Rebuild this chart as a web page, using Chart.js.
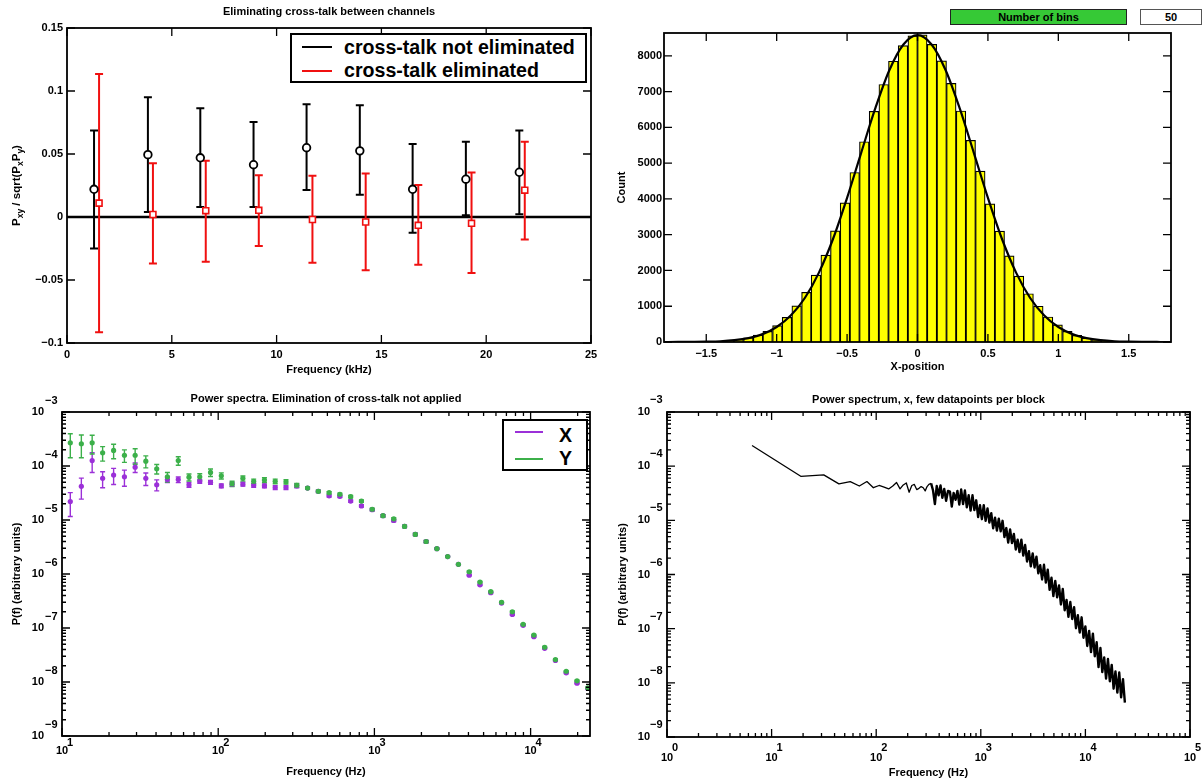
<!DOCTYPE html>
<html><head><meta charset="utf-8">
<script src="https://cdn.jsdelivr.net/npm/chart.js@4.4.1/dist/chart.umd.min.js"></script>
<style>
html,body{margin:0;padding:0;background:#fff;}
body{width:1203px;height:782px;position:relative;overflow:hidden;font-family:'Liberation Sans',Arial,Helvetica,sans-serif;}
canvas{position:absolute;}
.legend{position:absolute;background:#fff;border:2px solid #000;box-sizing:border-box;z-index:5;}
.ls{position:absolute;height:2px;}
.lt{position:absolute;font-weight:bold;font-size:19.6px;line-height:22px;white-space:nowrap;color:#000;}
.widget{position:absolute;box-sizing:border-box;font-weight:bold;font-size:11px;line-height:14px;text-align:center;z-index:5;}
</style></head><body>
<canvas id="c1" width="600" height="380" style="left:0;top:0;width:600px;height:380px"></canvas>
<canvas id="c2" width="603" height="380" style="left:600px;top:0;width:603px;height:380px"></canvas>
<canvas id="c3" width="600" height="402" style="left:0;top:380px;width:600px;height:402px"></canvas>
<canvas id="c4" width="603" height="402" style="left:600px;top:380px;width:603px;height:402px"></canvas>

<div class="legend" style="left:290px;top:33px;width:297px;height:50px;">
  <div class="ls" style="left:10px;top:11px;width:30px;background:#000"></div>
  <div class="lt" style="left:52px;top:1px;">cross-talk not eliminated</div>
  <div class="ls" style="left:10px;top:35px;width:30px;background:#f01010"></div>
  <div class="lt" style="left:52px;top:24px;">cross-talk eliminated</div>
</div>
<div class="legend" style="left:502px;top:419px;width:86px;height:52px;">
  <div class="ls" style="left:11px;top:10px;width:28px;background:#9b30d8"></div>
  <div class="lt" style="left:55px;top:3px;">X</div>
  <div class="ls" style="left:11px;top:37px;width:28px;background:#3cb04a"></div>
  <div class="lt" style="left:55px;top:26px;">Y</div>
</div>
<div class="widget" style="left:950px;top:9px;width:177px;height:16px;background:#36c936;border:1px solid #222;">Number of bins</div>
<div class="widget" style="left:1140px;top:9px;width:62px;height:16px;background:#fff;border:1px solid #555;">50</div>

<script>
// ---------- Top-left: cross-talk ----------
const freqNotElim = [1.29, 3.86, 6.36, 8.90, 11.43, 13.97, 16.49, 19.03, 21.58];
const valNotElim  = [0.022, 0.0495, 0.047, 0.0415, 0.055, 0.0525, 0.022, 0.030, 0.0355];
const hiNotElim   = [0.0686, 0.095, 0.0864, 0.0753, 0.0894, 0.0886, 0.058, 0.0598, 0.0686];
const loNotElim   = [-0.025, 0.004, 0.008, 0.008, 0.0215, 0.0176, -0.0125, 0.0013, 0.0021];
const freqElim = [1.53, 4.10, 6.62, 9.15, 11.71, 14.25, 16.76, 19.30, 21.84];
const valElim  = [0.011, 0.002, 0.005, 0.0053, -0.002, -0.004, -0.0066, -0.005, 0.0213];
const hiElim   = [0.1134, 0.0426, 0.0447, 0.0332, 0.0327, 0.0346, 0.0253, 0.0354, 0.0598];
const loElim   = [-0.0915, -0.037, -0.0356, -0.0231, -0.0364, -0.0423, -0.0378, -0.0444, -0.0178];

// ---------- Top-right: histogram ----------
const binCenters = [-1.681,-1.612,-1.544,-1.475,-1.407,-1.338,-1.270,-1.201,-1.132,-1.064,-0.995,-0.927,-0.858,-0.789,-0.721,-0.652,-0.584,-0.515,-0.446,-0.378,-0.309,-0.240,-0.172,-0.103,-0.034,0.034,0.103,0.172,0.240,0.309,0.378,0.446,0.515,0.584,0.652,0.721,0.789,0.858,0.927,0.995,1.064,1.132,1.201,1.270,1.338,1.407,1.475,1.544,1.612,1.681];
const binCounts = [1,3,6,12,22,40,70,120,195,300,460,690,1010,1390,1870,2430,3110,3890,4740,5600,6450,7200,7850,8290,8560,8590,8320,7860,7230,6460,5640,4780,3860,3100,2410,1840,1350,1000,700,480,300,185,105,62,32,16,8,4,2,1];
const fitX = [-1.8,-1.7,-1.6,-1.5,-1.4,-1.3,-1.2,-1.1,-1.0,-0.9,-0.8,-0.7,-0.6,-0.5,-0.4,-0.3,-0.2,-0.1,0,0.1,0.2,0.3,0.4,0.5,0.6,0.7,0.8,0.9,1.0,1.1,1.2,1.3,1.4,1.5,1.6,1.7,1.8];
const fitY = [0,1,4,9,20,50,110,220,420,740,1230,1940,2880,4030,5290,6530,7600,8320,8580,8320,7600,6530,5290,4030,2880,1940,1230,740,420,220,110,50,20,9,4,1,0];
const countTicks = [0,1000,2000,3000,4000,5000,6000,7000,8000];

// ---------- Bottom-left: power spectra X / Y ----------
const psFreq = [11.3,13.3,15.6,18.2,21.4,25.1,29.4,34.4,40.4,47.3,55.5,65.0,76.2,89.3,104.7,122.7,143.9,168.7,197.7,231.7,271.6,318.4,373.3,437.5,512.9,601.2,704.7,826.0,968.3,1135,1330,1560,1828,2143,2512,2944,3451,4046,4742,5559,6516,7638,8954,10495,12303,14421,16904,19815,23227];
const psX = [2.19e-5,4.2e-5,1.26e-4,5.9e-5,6.8e-5,6.3e-5,9.5e-5,5.9e-5,4.5e-5,5.6e-5, 5.6e-5,4.5e-5,5.2e-5,5.0e-5,4.3e-5,4.6e-5,4.6e-5,4.4e-5,4.3e-5,4.0e-5, 4.0e-5,4.3e-5,3.9e-5,3.4e-5,2.8e-5,2.75e-5,2.24e-5,1.82e-5,1.55e-5,1.2e-5, 9.8e-6,7.6e-6,5.4e-6,4.0e-6,2.95e-6,2.1e-6,1.51e-6,9.5e-7,6.3e-7,4.5e-7, 2.9e-7,1.78e-7,1.12e-7,6.9e-8,4.2e-8,2.5e-8,1.48e-8,9.5e-9,7.6e-9];
const psY = [2.69e-4,2.58e-4,2.69e-4,1.76e-4,1.94e-4,1.58e-4,1.58e-4,1.23e-4,8.9e-5,6.3e-5, 1.26e-4,6.2e-5,6.3e-5,7.6e-5,6.6e-5,4.7e-5,5.9e-5,5.2e-5,5.5e-5,5.2e-5, 5.1e-5,4.4e-5,3.9e-5,3.4e-5,3.2e-5,3.0e-5,2.7e-5,2.24e-5,1.58e-5,1.2e-5, 1.05e-5,7.6e-6,5.4e-6,4.0e-6,2.95e-6,2.1e-6,1.51e-6,1.1e-6,7.1e-7,4.7e-7, 3.0e-7,2.0e-7,1.17e-7,7.4e-8,4.4e-8,2.6e-8,1.58e-8,1.05e-8,7.8e-9];
const psXRelErr = [0.47,0.42,0.40,0.33,0.33,0.33,0.20,0.26,0.23,0.12, 0.12,0.10,0.08,0.08,0.08,0.08,0.08,0.08,0.08,0.08, 0.08,0.08,0.05,0.05,0.05,0.05,0.05,0.05,0.05,0.05, 0.05,0.05,0.05,0.05,0.03,0.03,0.03,0.03,0.03,0.03, 0.03,0.03,0.03,0.03,0.03,0.03,0.03,0.03,0.03];
const psYRelErr = [0.47,0.45,0.38,0.30,0.30,0.26,0.32,0.25,0.20,0.20, 0.18,0.15,0.14,0.16,0.13,0.11,0.11,0.10,0.10,0.10, 0.09,0.08,0.05,0.05,0.05,0.05,0.05,0.05,0.05,0.05, 0.05,0.05,0.05,0.05,0.03,0.03,0.03,0.03,0.03,0.03, 0.03,0.03,0.03,0.03,0.03,0.03,0.03,0.03,0.03];

// ---------- Bottom-right: single power spectrum ----------
const spectrumFreq = [6.5,19,31.5,44,56.5,69,81.5,94,106.5,119,131.5,144,156.5,169,181.5,194,206.5,219,231.5,244,256.5,269,281.5,294,306.5,319,
 335,349,364,379,395,412,429,447,466,486,507,528,550,574,598,623,649,677,705,735,766,799,833,868,904,943,982,1024,1067,1112,1159,1208,1259,1313,1368,1426,1486,1549,1615,1683,1754,1828,1906,1986,2070,2158,2249,2344,2443,2547,2654,2767,2884,3006,3133,3265,3403,3547,3697,3854,4017,4187,4364,4548,4741,4941,5150,5368,5595,5832,6078,6336,6603,6883,7174,7477,7794,8123,8467,8825,9198,9587,9993,10415,10856,11315,11793,12292,12812,13354,13918,14507,15120,15760,16426,17121,17845,18600,19386,20206,21061,21951,22880,23847];
const spectrumPower = [2.4e-4,6.5e-5,6.9e-5,4.7e-5,5.2e-5,4.3e-5,5.2e-5,4.0e-5,4.4e-5,4.1e-5,3.8e-5,4.3e-5,5.0e-5,3.8e-5,4.5e-5,4.9e-5,3.3e-5,4.4e-5,4.6e-5,3.7e-5,3.9e-5,4.2e-5,4.0e-5,3.5e-5,4.2e-5,4.6e-5,
 4.8e-5,3.6e-5,2.0e-5,4.3e-5,2.9e-5,4.4e-5,2.6e-5,3.8e-5,2.3e-5,3.5e-5,
 3.4e-5,1.8e-5,3.2e-5,2.4e-5,3.5e-5,1.95e-5,3.7e-5,2.0e-5,3.55e-5,1.74e-5,
 2.9e-5,1.51e-5,2.9e-5,1.55e-5,2.34e-5,1.15e-5,1.9e-5,1.05e-5,1.9e-5,9.8e-6,
 1.66e-5,9.1e-6,1.35e-5,7.1e-6,1.12e-5,6.5e-6,1.07e-5,6.3e-6,9.8e-6,4.9e-6,
 7.2e-6,3.9e-6,6.8e-6,3.8e-6,5.6e-6,2.9e-6,4.4e-6,2.6e-6,4.4e-6,2.24e-6,
 3.5e-6,1.74e-6,2.7e-6,1.41e-6,2.45e-6,1.35e-6,2.14e-6,1.05e-6,1.48e-6,8.1e-7,
 1.51e-6,7.1e-7,1.23e-6,5.2e-7,8.7e-7,4.0e-7,7.6e-7,3.8e-7,6.3e-7,2.8e-7,
 5.4e-7,2.19e-7,3.4e-7,1.66e-7,3.1e-7,1.51e-7,2.5e-7,1.02e-7,1.78e-7,8.5e-8,
 1.62e-7,6.8e-8,1.1e-7,4.8e-8,9.1e-8,3.7e-8,8.1e-8,3.1e-8,5.6e-8,1.95e-8,
 4.4e-8,1.58e-8,2.95e-8,1.2e-8,2.75e-8,1.07e-8,2.14e-8,7.8e-9,1.62e-8,6.6e-9,
 1.55e-8,5.4e-9,1.17e-8,4.3e-9];

// ---------- common setup ----------
const FONT = "'Liberation Sans', Arial, Helvetica, sans-serif";
Chart.defaults.font.family = FONT;
Chart.defaults.font.size = 11;
Chart.defaults.font.weight = 'bold';
Chart.defaults.color = '#000';
Chart.defaults.animation = false;
Chart.defaults.plugins.legend.display = false;
Chart.defaults.plugins.tooltip.enabled = false;

const MINUS = '\u2212';
const fmtNum = v => { const r = Math.round(v * 10000) / 10000; return r < 0 ? MINUS + String(-r) : String(r); };
function fixSize(w, h) {
  return function (s) {
    if (w != null) s.width = w;
    if (h != null) s.height = h;
    s.paddingLeft = 0; s.paddingRight = 0; s.paddingTop = 0; s.paddingBottom = 0;
  };
}
const noGrid = {display: false, drawTicks: false};

// frame + inward ticks on all four sides
const axisFrame = {
  id: 'axisFrame',
  afterDraw(chart) {
    const {ctx, chartArea: a} = chart;
    const ticksFor = (s) => {
      if (s.type === 'logarithmic') {
        const maj = [], min = [];
        const k0 = Math.floor(Math.log10(s.min) + 1e-9), k1 = Math.ceil(Math.log10(s.max) - 1e-9);
        for (let k = k0; k <= k1; k++) for (let m = 1; m <= 9; m++) {
          const v = m * Math.pow(10, k);
          if (v < s.min * 0.999 || v > s.max * 1.001) continue;
          (m === 1 ? maj : min).push(v);
        }
        return {maj, min};
      }
      return {maj: s.ticks.map(t => t.value), min: []};
    };
    const xs = chart.scales.x, ys = chart.scales.y;
    const tx = ticksFor(xs), ty = ticksFor(ys);
    ctx.save();
    ctx.strokeStyle = '#000';
    ctx.lineWidth = 1.3;
    ctx.beginPath();
    const xt = (v, len) => { const p = xs.getPixelForValue(v); ctx.moveTo(p, a.bottom); ctx.lineTo(p, a.bottom - len); ctx.moveTo(p, a.top); ctx.lineTo(p, a.top + len); };
    const yt = (v, len) => { const p = ys.getPixelForValue(v); ctx.moveTo(a.left, p); ctx.lineTo(a.left + len, p); ctx.moveTo(a.right, p); ctx.lineTo(a.right - len, p); };
    tx.maj.forEach(v => xt(v, 8)); tx.min.forEach(v => xt(v, 4));
    ty.maj.forEach(v => yt(v, 8)); ty.min.forEach(v => yt(v, 4));
    ctx.stroke();
    ctx.lineWidth = 1.8;
    ctx.strokeRect(a.left, a.top, a.right - a.left, a.bottom - a.top);
    ctx.restore();
  }
};

// "10" with superscript exponent labels for log axes
const logLabels = {
  id: 'logLabels',
  afterDraw(chart, args, o) {
    if (!o || !o.enabled) return;
    const {ctx, chartArea: a} = chart;
    const xs = chart.scales.x, ys = chart.scales.y;
    const exp = k => (k < 0 ? MINUS : '') + Math.abs(k);
    ctx.save();
    ctx.fillStyle = '#000';
    ctx.font = 'bold 11px ' + FONT;
    ctx.textBaseline = 'middle';
    for (let k = Math.ceil(Math.log10(xs.min) - 1e-9); k <= Math.floor(Math.log10(xs.max) + 1e-9); k++) {
      const p = xs.getPixelForValue(Math.pow(10, k));
      ctx.textAlign = 'center'; ctx.fillText('10', p, a.bottom + o.xBase);
      ctx.textAlign = 'left'; ctx.fillText(exp(k), p + o.xExpDx, a.bottom + o.xExp);
    }
    for (let k = Math.ceil(Math.log10(ys.min) - 1e-9); k <= Math.floor(Math.log10(ys.max) + 1e-9); k++) {
      const p = ys.getPixelForValue(Math.pow(10, k));
      ctx.textAlign = 'right'; ctx.fillText('10', a.left - o.yBaseDx, p);
      ctx.textAlign = 'left'; ctx.fillText(exp(k), a.left - o.yExpDx, p - o.yExpDy);
    }
    ctx.restore();
  }
};

// vertical error bars (datasets carry errLo / errHi arrays) + optional reference line
const errorBars = {
  id: 'errorBars',
  beforeDatasetsDraw(chart, args, o) {
    const {ctx, chartArea: a} = chart;
    const xs = chart.scales.x, ys = chart.scales.y;
    ctx.save();
    ctx.beginPath(); ctx.rect(a.left, a.top, a.right - a.left, a.bottom - a.top); ctx.clip();
    if (o && o.refY != null) {
      const p = ys.getPixelForValue(o.refY);
      ctx.strokeStyle = '#000'; ctx.lineWidth = 2.6;
      ctx.beginPath(); ctx.moveTo(a.left, p); ctx.lineTo(a.right, p); ctx.stroke();
    }
    chart.data.datasets.forEach((ds) => {
      if (!ds.errLo) return;
      ctx.strokeStyle = ds.errColor; ctx.lineWidth = ds.errWidth;
      const c = ds.capHalf;
      ctx.beginPath();
      ds.data.forEach((pt, j) => {
        const px = xs.getPixelForValue(pt.x);
        const lo = ys.getPixelForValue(ds.errLo[j]), hi = ys.getPixelForValue(ds.errHi[j]);
        ctx.moveTo(px, lo); ctx.lineTo(px, hi);
        ctx.moveTo(px - c, lo); ctx.lineTo(px + c, lo);
        ctx.moveTo(px - c, hi); ctx.lineTo(px + c, hi);
      });
      ctx.stroke();
    });
    ctx.restore();
  }
};

// y title with subscripts for the top-left chart
const pxyTitle = {
  id: 'pxyTitle',
  afterDraw(chart, args, o) {
    if (!o || !o.enabled) return;
    const {ctx, chartArea: a} = chart;
    const parts = [['P', 0], ['xy', 1], [' / sqrt(P', 0], ['x', 1], ['P', 0], ['y', 1], [')', 0]];
    const big = 'bold 11.5px ' + FONT, small = 'bold 8.5px ' + FONT;
    ctx.save();
    let total = 0;
    parts.forEach(([t, s]) => { ctx.font = s ? small : big; total += ctx.measureText(t).width; });
    ctx.translate(o.x, (a.top + a.bottom) / 2);
    ctx.rotate(-Math.PI / 2);
    ctx.fillStyle = '#000'; ctx.textBaseline = 'middle'; ctx.textAlign = 'left';
    let x = -total / 2;
    parts.forEach(([t, s]) => { ctx.font = s ? small : big; ctx.fillText(t, x, s ? 4 : 0); x += ctx.measureText(t).width; });
    ctx.restore();
  }
};

const toPts = (xs, ys) => xs.map((x, i) => ({x, y: ys[i]}));
const tickFont = {size: 11, weight: 'bold'};

// ---------- Chart 1 ----------
new Chart(document.getElementById('c1'), {
  type: 'scatter',
  data: {datasets: [
    {label: 'cross-talk not eliminated', data: toPts(freqNotElim, valNotElim), errLo: loNotElim, errHi: hiNotElim,
     errColor: '#000', errWidth: 2, capHalf: 4, pointStyle: 'circle', pointRadius: 3.8, borderColor: '#000', backgroundColor: '#fff', pointBorderWidth: 1.8, showLine: false},
    {label: 'cross-talk eliminated', data: toPts(freqElim, valElim), errLo: loElim, errHi: hiElim,
     errColor: '#f01010', errWidth: 2, capHalf: 4, pointStyle: 'rect', pointRadius: 4.2, borderColor: '#f01010', backgroundColor: '#fff', pointBorderWidth: 1.6, showLine: false}
  ]},
  options: {
    responsive: false,
    layout: {padding: {left: 0, right: 9, top: 0, bottom: 0}},
    plugins: {
      title: {display: true, fullSize: false, text: 'Eliminating cross-talk between channels', font: tickFont, color: '#000', padding: {top: 5, bottom: 9.8}},
      errorBars: {refY: 0},
      pxyTitle: {enabled: true, x: 17}
    },
    scales: {
      x: {type: 'linear', min: 0, max: 25, grid: noGrid, border: {display: false},
          ticks: {stepSize: 5, padding: 5, font: tickFont, color: '#000', maxRotation: 0, callback: fmtNum},
          title: {display: true, text: 'Frequency (kHz)', font: tickFont, color: '#000', padding: {top: 0, bottom: 3.4}},
          afterFit: fixSize(null, 37)},
      y: {type: 'linear', min: -0.1, max: 0.15, grid: noGrid, border: {display: false},
          ticks: {stepSize: 0.05, padding: 4, font: tickFont, color: '#000', callback: fmtNum},
          afterFit: fixSize(67, null)}
    }
  },
  plugins: [errorBars, axisFrame, pxyTitle]
});

// ---------- Chart 2 ----------
new Chart(document.getElementById('c2'), {
  type: 'bar',
  data: {datasets: [
    {type: 'line', label: 'fit', data: toPts(fitX, fitY), borderColor: '#000', borderWidth: 2.2, pointRadius: 0, cubicInterpolationMode: 'monotone', order: 0},
    {type: 'bar', label: 'Count', data: toPts(binCenters, binCounts), backgroundColor: '#ffff00', borderColor: '#000', borderWidth: 1.2, barPercentage: 1, categoryPercentage: 1, order: 1}
  ]},
  options: {
    responsive: false,
    layout: {padding: {left: 0, right: 32, top: 33, bottom: 0}},
    scales: {
      x: {type: 'linear', min: -1.8, max: 1.8, offset: false, grid: noGrid, border: {display: false},
          ticks: {stepSize: 0.5, includeBounds: false, padding: 5.4, font: tickFont, color: '#000', maxRotation: 0, callback: fmtNum},
          title: {display: true, text: 'X-position', font: tickFont, color: '#000', padding: {top: 0, bottom: 6.4}},
          afterFit: fixSize(null, 38)},
      y: {type: 'linear', min: 0, max: 8640, grid: noGrid, border: {display: false},
          afterBuildTicks: s => { s.ticks = countTicks.map(v => ({value: v})); },
          ticks: {padding: 2, font: tickFont, color: '#000', callback: v => String(Math.round(v))},
          title: {display: true, text: 'Count', font: tickFont, color: '#000', padding: {top: 15.4, bottom: 0}},
          afterFit: fixSize(64, null)}
    }
  },
  plugins: [axisFrame]
});

// ---------- Chart 3 ----------
const errLoOf = (v, e) => v.map((y, i) => y * (1 - e[i]));
const errHiOf = (v, e) => v.map((y, i) => y * (1 + e[i]));
new Chart(document.getElementById('c3'), {
  type: 'scatter',
  data: {datasets: [
    {label: 'X', data: toPts(psFreq, psX), errLo: errLoOf(psX, psXRelErr), errHi: errHiOf(psX, psXRelErr),
     errColor: '#9b30d8', errWidth: 1.4, capHalf: 2.5, pointRadius: 2.6, pointBorderWidth: 0, backgroundColor: '#9b30d8', borderColor: '#9b30d8', showLine: false, order: 2},
    {label: 'Y', data: toPts(psFreq, psY), errLo: errLoOf(psY, psYRelErr), errHi: errHiOf(psY, psYRelErr),
     errColor: '#3cb04a', errWidth: 1.4, capHalf: 2.5, pointRadius: 2.6, pointBorderWidth: 0, backgroundColor: '#3cb04a', borderColor: '#3cb04a', showLine: false, order: 1}
  ]},
  options: {
    responsive: false,
    layout: {padding: {left: 0, right: 10, top: 0, bottom: 0}},
    plugins: {
      title: {display: true, fullSize: false, text: 'Power spectra. Elimination of cross-talk not applied', font: tickFont, color: '#000', padding: {top: 12.4, bottom: 6.4}},
      logLabels: {enabled: true, xBase: 15, xExp: 7, xExpDx: 5, yBaseDx: 18, yExpDx: 17, yExpDy: 11}
    },
    scales: {
      x: {type: 'logarithmic', min: 10, max: 24000, grid: noGrid, border: {display: false}, ticks: {display: false},
          title: {display: true, text: 'Frequency (Hz)', font: tickFont, color: '#000', padding: {top: 0, bottom: 3.4}},
          afterFit: fixSize(null, 46)},
      y: {type: 'logarithmic', min: 1e-9, max: 1e-3, grid: noGrid, border: {display: false}, ticks: {display: false},
          title: {display: true, text: 'P(f) (arbitrary units)', font: tickFont, color: '#000', padding: {top: 10.4, bottom: 0}},
          afterFit: fixSize(62, null)}
    }
  },
  plugins: [errorBars, axisFrame, logLabels]
});

// ---------- Chart 4 ----------
new Chart(document.getElementById('c4'), {
  type: 'line',
  data: {datasets: [
    {label: 'x', data: toPts(spectrumFreq, spectrumPower), borderColor: '#000', borderWidth: 1.3, pointRadius: 0, tension: 0,
     borderJoinStyle: 'round',
     segment: {borderWidth: c => (c.p0.parsed.x > 325 ? 2.4 : 1.3)}}
  ]},
  options: {
    responsive: false,
    layout: {padding: {left: 0, right: 13, top: 0, bottom: 0}},
    plugins: {
      title: {display: true, fullSize: false, text: 'Power spectrum, x, few datapoints per block', font: tickFont, color: '#000', padding: {top: 13.4, bottom: 5.4}},
      logLabels: {enabled: true, xBase: 21, xExp: 11, xExpDx: 5, yBaseDx: 17, yExpDx: 17, yExpDy: 12}
    },
    scales: {
      x: {type: 'logarithmic', min: 1, max: 1e5, grid: noGrid, border: {display: false}, ticks: {display: false},
          title: {display: true, text: 'Frequency (Hz)', font: tickFont, color: '#000', padding: {top: 0, bottom: 2.4}},
          afterFit: fixSize(null, 45)},
      y: {type: 'logarithmic', min: 1e-9, max: 1e-3, grid: noGrid, border: {display: false}, ticks: {display: false},
          title: {display: true, text: 'P(f) (arbitrary units)', font: tickFont, color: '#000', padding: {top: 16.4, bottom: 0}},
          afterFit: fixSize(67, null)}
    }
  },
  plugins: [axisFrame, logLabels]
});
</script>
</body></html>
